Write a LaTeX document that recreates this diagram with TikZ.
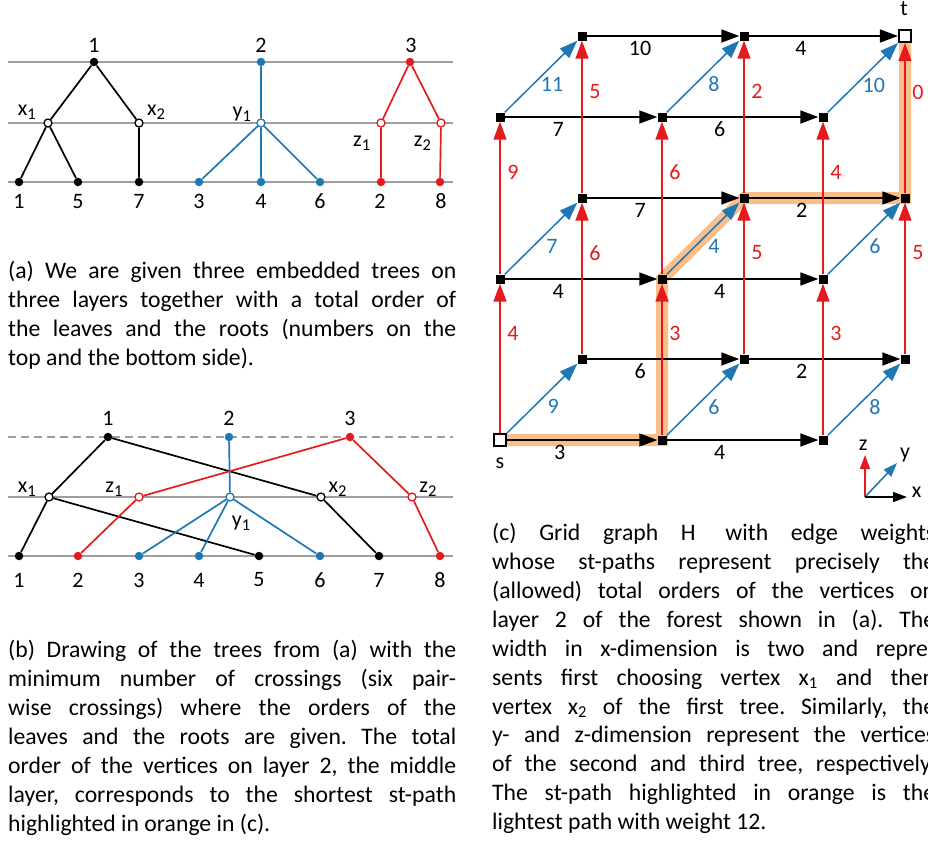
\documentclass[tikz,border=0pt]{standalone}
\usepackage{fontspec}
\setmainfont{Carlito}
\usetikzlibrary{arrows.meta,calc}
\definecolor{tblue}{RGB}{31,119,180}
\definecolor{tred}{RGB}{228,26,28}
\definecolor{lgray}{RGB}{158,158,158}
\definecolor{hlorange}{RGB}{249,190,138}
\pgfdeclarelayer{background}
\pgfsetlayers{background,main}
\setlength{\parindent}{0pt}
\frenchspacing
% subscript used in the vertex labels
\newcommand{\vsub}[1]{\raisebox{-0.22em}{\fontsize{16.5}{16.5}\selectfont #1}}
\begin{document}
\begin{tikzpicture}[x=1pt,y=-1pt,
  layerline/.style={draw=lgray,line width=1.8pt},
  fdot/.style={circle,inner sep=0pt,minimum size=8.5pt,fill=#1,draw=none},
  odot/.style={circle,inner sep=0pt,minimum size=8pt,fill=white,draw=#1,line width=1.3pt},
  tedge/.style={draw=#1,line width=1.7pt},
  lab/.style={inner sep=0pt,font=\fontsize{22}{22}\selectfont},
  caption/.style={anchor=north west,inner sep=0pt,align=justify,
    font=\fontsize{23.7}{28.9}\selectfont},
  vsq/.style={rectangle,fill=black,inner sep=0pt,minimum size=9pt},
  term/.style={rectangle,fill=white,draw=black,line width=2.2pt,inner sep=0pt,minimum size=12pt},
  arr/.style={-{Triangle[length=18pt,width=13pt]},line width=1.5pt,draw=#1},
  smallarr/.style={-{Triangle[length=14pt,width=10pt]},line width=1.6pt,draw=#1},
  hlpath/.style={draw=hlorange,line width=12pt},
]
\useasboundingbox (0,0) rectangle (928,841);

% ---------------- (a) three embedded trees ----------------
\foreach \yy in {62,123,182} \draw[layerline] (8,\yy) -- (453,\yy);

\node[fdot=black] (a1r) at (94,62) {};
\node[odot=black] (ax1) at (48,123) {};
\node[odot=black] (ax2) at (139,123) {};
\node[fdot=black] (al1) at (19,182) {};
\node[fdot=black] (al5) at (78,182) {};
\node[fdot=black] (al7) at (139,182) {};
\draw[tedge=black] (a1r) -- (ax1) (a1r) -- (ax2) (ax1) -- (al1) (ax1) -- (al5) (ax2) -- (al7);

\node[fdot=tblue] (a2r) at (261,62) {};
\node[odot=tblue] (ay1) at (261,123) {};
\node[fdot=tblue] (al3) at (199,182) {};
\node[fdot=tblue] (al4) at (261,182) {};
\node[fdot=tblue] (al6) at (320,182) {};
\draw[tedge=tblue] (a2r) -- (ay1) (ay1) -- (al3) (ay1) -- (al4) (ay1) -- (al6);

\node[fdot=tred] (a3r) at (410,62) {};
\node[odot=tred] (az1) at (381,123) {};
\node[odot=tred] (az2) at (441,123) {};
\node[fdot=tred] (al2) at (381,182) {};
\node[fdot=tred] (al8) at (440,182) {};
\draw[tedge=tred] (a3r) -- (az1) (a3r) -- (az2) (az1) -- (al2) (az2) -- (al8);

\node[lab] (ta1) at (94,45) {1};
\node[lab] (ta2) at (261,45) {2};
\node[lab] (ta3) at (411,45) {3};
\foreach \xx/\tt in {19/1,78/5,139/7,199/3,261/4,320/6,380/2,441/8}
  \node[lab] (ba\tt) at (\xx,201.5) {\tt};
\node[lab,anchor=base] (lax1) at (26.7,115) {x\vsub{1}};
\node[lab,anchor=base] (lax2) at (156,115) {x\vsub{2}};
\node[lab,anchor=base] (lay1) at (241.7,117) {y\vsub{1}};
\node[lab,anchor=base] (laz1) at (361.7,146) {z\vsub{1}};
\node[lab,anchor=base] (laz2) at (422.5,146) {z\vsub{2}};

\node[caption,text width=448pt] (capa) at (8,258.2) {\strut(a) We are given three embedded trees on\linebreak
three layers together with a total order of\linebreak
the leaves and the roots (numbers on the\linebreak
top and the bottom side).};

% ---------------- (b) crossing-minimal drawing ----------------
\draw[layerline,dash pattern=on 8pt off 5pt] (8,437) -- (453,437);
\foreach \yy in {497,556} \draw[layerline] (8,\yy) -- (453,\yy);

\node[fdot=black] (b1r) at (108,437) {};
\node[fdot=tblue] (b2r) at (229,437) {};
\node[fdot=tred] (b3r) at (350,437) {};
\node[odot=black] (bx1) at (49,497) {};
\node[odot=tred] (bz1) at (139,497) {};
\node[odot=tblue] (by1) at (230,497) {};
\node[odot=black] (bx2) at (321,497) {};
\node[odot=tred] (bz2) at (412,497) {};
\node[fdot=black] (bl1) at (19,556) {};
\node[fdot=tred] (bl2) at (78,556) {};
\node[fdot=tblue] (bl3) at (139,556) {};
\node[fdot=tblue] (bl4) at (199,556) {};
\node[fdot=black] (bl5) at (259,556) {};
\node[fdot=tblue] (bl6) at (320,556) {};
\node[fdot=black] (bl7) at (379,556) {};
\node[fdot=tred] (bl8) at (440,556) {};
\draw[tedge=black] (b1r) -- (bx1) (b1r) -- (bx2) (bx1) -- (bl1) (bx1) -- (bl5) (bx2) -- (bl7);
\draw[tedge=tblue] (b2r) -- (by1) (by1) -- (bl3) (by1) -- (bl4) (by1) -- (bl6);
\draw[tedge=tred] (b3r) -- (bz1) (b3r) -- (bz2) (bz1) -- (bl2) (bz2) -- (bl8);

\node[lab] (tb1) at (108,418.3) {1};
\node[lab] (tb2) at (229,418.3) {2};
\node[lab] (tb3) at (350,418.3) {3};
\foreach \xx/\tt in {19/1,78/2,139/3,199/4,259/5,320/6,379/7,440/8}
  \node[lab] (bb\tt) at (\xx,580) {\tt};
\node[lab,anchor=base] (lbx1) at (26.7,492) {x\vsub{1}};
\node[lab,anchor=base] (lbz1) at (114,492) {z\vsub{1}};
\node[lab,anchor=base] (lbx2) at (337.5,492) {x\vsub{2}};
\node[lab,anchor=base] (lbz2) at (428,492) {z\vsub{2}};
\node[lab,anchor=base] (lby1) at (241,526) {y\vsub{1}};

\node[caption,text width=448pt] (capb) at (8,637.2) {\strut(b) Drawing of the trees from (a) with the\linebreak
minimum number of crossings (six pair-\linebreak
wise crossings) where the orders of the\linebreak
leaves and the roots are given. The total\linebreak
order of the vertices on layer 2, the middle\linebreak
layer, corresponds to the shortest st-path\linebreak
highlighted in orange in (c).};

% ---------------- (c) grid graph H ----------------
\foreach \i in {0,1,2}{\foreach \j in {0,1}{\foreach \k in {0,1,2}{
  \ifnum\i\j\k=0 \def\vst{term}\else\ifnum\i\j\k=212 \def\vst{term}\else\def\vst{vsq}\fi\fi
  \pgfmathsetmacro\gx{{500,662,823}[\i]+82*\j}
  \pgfmathsetmacro\gy{{440,279,117}[\k]-81*\j}
  \node[\vst] (g\i\j\k) at (\gx,\gy) {};
}}}

% lightest st-path
\begin{pgfonlayer}{background}
\draw[hlpath] (g000.center) -- (g100.center) -- (g101.center) -- (g111.center)
  -- (g211.center) -- (g212.center);
\end{pgfonlayer}

% x-direction edges
\foreach \j/\k/\wa/\wb in {0/0/3/4,1/0/6/2,0/1/4/4,1/1/7/2,0/2/7/6,1/2/10/4}{
  \draw[arr=black] (g0\j\k) -- node[lab,pos=.35,yshift=-12pt]{\wa} (g1\j\k);
  \draw[arr=black] (g1\j\k) -- node[lab,pos=.35,yshift=-12pt]{\wb} (g2\j\k);
}
% y-direction edges
\foreach \i/\k/\w in {0/0/9,1/0/6,2/0/8,0/1/7,1/1/4,2/1/6,0/2/11,1/2/8,2/2/10}{
  \draw[arr=tblue] (g\i0\k) -- node[lab,text=tblue,pos=.5,xshift=11pt,yshift=-8pt]{\w} (g\i1\k);
}
% z-direction edges
\foreach \i/\j/\wa/\wb in {0/0/4/9,1/0/3/6,2/0/3/4,0/1/6/5,1/1/5/2,2/1/5/0}{
  \draw[arr=tred] (g\i\j0) -- node[lab,text=tred,pos=.67,xshift=13pt]{\wa} (g\i\j1);
  \draw[arr=tred] (g\i\j1) -- node[lab,text=tred,pos=.67,xshift=13pt]{\wb} (g\i\j2);
}

\node[lab,anchor=base] (ls) at (500,468) {s};
\node[lab,anchor=base] (lt) at (904,15) {t};

% axes
\coordinate (ax0) at (865,497);
\coordinate (axz) at (865,455);
\coordinate (axx) at (907,497);
\coordinate (axy) at (897,463);
\draw[smallarr=tred] (ax0) -- (axz);
\draw[smallarr=tblue] (ax0) -- (axy);
\draw[smallarr=black] (ax0) -- (axx);
\node[lab,anchor=base] (lz) at (863.3,450.7) {z};
\node[lab,anchor=base] (ly) at (905,458) {y};
\node[lab,anchor=base] (lx) at (916.7,497) {x};

\node[caption,text width=443pt] (capc) at (492,520.2) {\strut(c) Grid graph H\hspace{0.3em} with edge weights\linebreak
whose st-paths represent precisely the\linebreak
(allowed) total orders of the vertices on\linebreak
layer 2 of the forest shown in (a). The\linebreak
width in x-dimension is two and repre-\linebreak
sents first choosing vertex x\textsubscript{1} and then\linebreak
vertex x\textsubscript{2} of the first tree. Similarly, the\linebreak
y- and z-dimension represent the vertices\linebreak
of the second and third tree, respectively.\linebreak
The st-path highlighted in orange is the\linebreak
lightest path with weight 12.};
\end{tikzpicture}
\end{document}
